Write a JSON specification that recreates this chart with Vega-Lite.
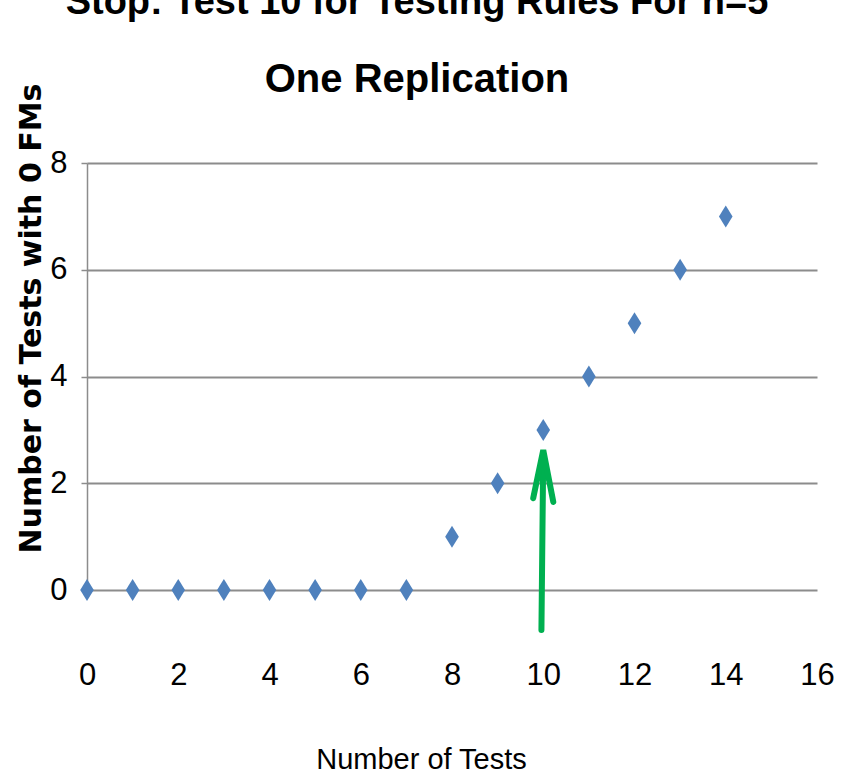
{
  "$schema": "https://vega.github.io/schema/vega-lite/v6.json",
  "width": 730,
  "height": 427,
  "autosize": "none",
  "padding": {"left": 87, "top": 163, "right": 27, "bottom": 192},
  "background": "white",
  "config": {"view": {"stroke": null}},
  "title": {
    "text": "Stop: Test 10 for Testing Rules For n=5",
    "subtitle": "One Replication",
    "font": "Liberation Sans",
    "fontSize": 38,
    "fontWeight": "bold",
    "color": "black",
    "subtitleFont": "Liberation Sans",
    "subtitleFontSize": 40,
    "subtitleFontWeight": "bold",
    "subtitleColor": "black",
    "subtitlePadding": 38,
    "anchor": "middle",
    "offset": -17,
    "dx": -35
  },
  "datasets": {
    "pts": [
      {"tests": 0, "zero": 0}, {"tests": 1, "zero": 0}, {"tests": 2, "zero": 0},
      {"tests": 3, "zero": 0}, {"tests": 4, "zero": 0}, {"tests": 5, "zero": 0},
      {"tests": 6, "zero": 0}, {"tests": 7, "zero": 0}, {"tests": 8, "zero": 1},
      {"tests": 9, "zero": 2}, {"tests": 10, "zero": 3}, {"tests": 11, "zero": 4},
      {"tests": 12, "zero": 5}, {"tests": 13, "zero": 6}, {"tests": 14, "zero": 7}
    ],
    "arrow": [
      {"seg": "shaft", "ord": 1, "tests": 9.96, "zero": -0.75},
      {"seg": "shaft", "ord": 2, "tests": 10.0, "zero": 2.55},
      {"seg": "head", "ord": 1, "tests": 9.78, "zero": 1.72},
      {"seg": "head", "ord": 2, "tests": 10.0, "zero": 2.62},
      {"seg": "head", "ord": 3, "tests": 10.22, "zero": 1.65}
    ]
  },
  "layer": [
    {
      "data": {"name": "pts"},
      "mark": {"type": "point", "shape": "M0,-1L0.62,0L0,1L-0.62,0Z", "filled": true, "size": 484, "color": "#4F81BD", "opacity": 1},
      "encoding": {
        "x": {
          "field": "tests", "type": "quantitative",
          "scale": {"domain": [0, 16], "nice": false},
          "axis": {
            "title": "Number of Tests",
            "values": [0, 2, 4, 6, 8, 10, 12, 14, 16],
            "grid": false, "domain": false, "ticks": false,
            "labelFlush": false,
            "labelFont": "Liberation Sans", "labelFontSize": 31, "labelColor": "black",
            "labelPadding": 70,
            "titleFont": "Liberation Sans", "titleFontSize": 29, "titleFontWeight": "normal", "titleColor": "black",
            "titleX": 334, "titleY": 155, "titleAlign": "center", "titleBaseline": "top", "titleAnchor": "start"
          }
        },
        "y": {
          "field": "zero", "type": "quantitative",
          "scale": {"domain": [0, 8], "nice": false},
          "axis": {
            "title": "Number of Tests with 0 FMs",
            "values": [0, 2, 4, 6, 8],
            "grid": true, "gridColor": "#8C8C8C", "gridWidth": 2,
            "domain": true, "domainColor": "#8C8C8C", "domainWidth": 1.5,
            "ticks": true, "tickColor": "#8C8C8C", "tickSize": 6, "tickWidth": 1.5,
            "labelFont": "Liberation Sans", "labelFontSize": 31, "labelColor": "black",
            "labelPadding": 14,
            "titleFont": "DejaVu Sans", "titleFontSize": 30, "titleFontWeight": "bold", "titleColor": "black",
            "titleX": -47, "titleY": 155, "titleAngle": -90, "titleAlign": "center", "titleBaseline": "alphabetic", "titleAnchor": "start"
          }
        }
      }
    },
    {
      "data": {"name": "arrow"},
      "mark": {"type": "line", "color": "#00B050", "strokeWidth": 6, "strokeCap": "round", "strokeJoin": "miter", "clip": false},
      "encoding": {
        "x": {"field": "tests", "type": "quantitative"},
        "y": {"field": "zero", "type": "quantitative"},
        "detail": {"field": "seg"},
        "order": {"field": "ord", "type": "quantitative"}
      }
    }
  ]
}
